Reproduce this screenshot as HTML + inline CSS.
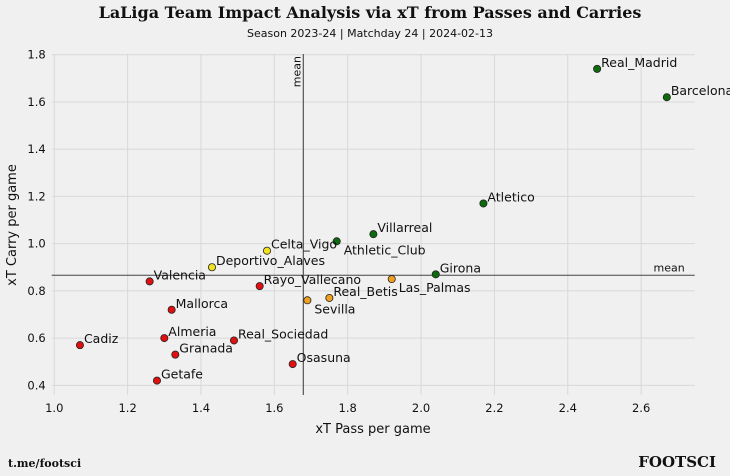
<!DOCTYPE html>
<html><head><meta charset="utf-8"><style>
body{margin:0;background:#f0f0f0;}
svg{display:block;font-family:"DejaVu Sans","Liberation Sans",sans-serif;}
</style></head><body>
<svg id="chart" width="730" height="476" viewBox="0 0 730 476">
<rect width="730" height="476" fill="#f0f0f0"/>
<text x="370" y="18" text-anchor="middle" font-family="DejaVu Serif, Liberation Serif, serif" font-weight="bold" font-size="16" fill="#111">LaLiga Team Impact Analysis via xT from Passes and Carries</text>
<text x="370" y="37" text-anchor="middle" font-size="11" fill="#111">Season 2023-24 | Matchday 24 | 2024-02-13</text>
<g id="grid"></g>
<g id="axes"></g>
<g id="marks"></g>
<text x="373" y="433" text-anchor="middle" font-size="13" fill="#111">xT Pass per game</text>
<text transform="translate(16,225) rotate(-90)" text-anchor="middle" font-size="13" fill="#111">xT Carry per game</text>
<text x="8" y="467" font-family="DejaVu Serif, Liberation Serif, serif" font-weight="bold" font-size="11" fill="#111">t.me/footsci</text>
<text x="716" y="467" text-anchor="end" font-family="DejaVu Serif, Liberation Serif, serif" font-weight="bold" font-size="15" fill="#111">FOOTSCI</text>
</svg>
<script>
const teams=["Real_Madrid","Barcelona","Atletico","Villarreal","Athletic_Club","Girona","Las_Palmas","Real_Betis","Sevilla","Celta_Vigo","Deportivo_Alaves","Valencia","Rayo_Vallecano","Mallorca","Almeria","Real_Sociedad","Cadiz","Granada","Osasuna","Getafe"];
const xtPass=[2.48,2.67,2.17,1.87,1.77,2.04,1.92,1.75,1.69,1.58,1.43,1.26,1.56,1.32,1.30,1.49,1.07,1.33,1.65,1.28];
const xtCarry=[1.74,1.62,1.17,1.04,1.01,0.87,0.85,0.77,0.76,0.97,0.90,0.84,0.82,0.72,0.60,0.59,0.57,0.53,0.49,0.42];
const xTicks=[1.0,1.2,1.4,1.6,1.8,2.0,2.2,2.4,2.6];
const yTicks=[0.4,0.6,0.8,1.0,1.2,1.4,1.6,1.8];
const meanPass=1.679, meanCarry=0.866;
const below=["Athletic_Club","Las_Palmas","Sevilla"];
const X0=51.7,X1=694.7,Y0=395,Y1=54;
const xmin=0.993,xmax=2.746,ymin=0.359,ymax=1.803;
const sx=v=>X0+(v-xmin)/(xmax-xmin)*(X1-X0);
const sy=v=>Y0-(v-ymin)/(ymax-ymin)*(Y0-Y1);
const NS="http://www.w3.org/2000/svg";
function mk(t,a,p){const e=document.createElementNS(NS,t);for(const k in a)e.setAttribute(k,a[k]);p.appendChild(e);return e;}
const grid=document.getElementById('grid'),axes=document.getElementById('axes'),marks=document.getElementById('marks');
xTicks.forEach(t=>{
 const l=mk('line',{x1:sx(t),x2:sx(t),y1:Y1,y2:Y0,stroke:'#d8d8d8','stroke-width':1},grid);
 
 
 const tx=mk('text',{x:sx(t),y:Y0+17,'text-anchor':'middle','font-size':11.5,fill:'#111'},axes);
 tx.textContent=t.toFixed(1);
 
 
});
yTicks.forEach(t=>{
 const l=mk('line',{x1:X0,x2:X1,y1:sy(t),y2:sy(t),stroke:'#d8d8d8','stroke-width':1},grid);
 
 
 const tx=mk('text',{x:X0-6,y:sy(t)+4,'text-anchor':'end','font-size':11.5,fill:'#111'},axes);
 tx.textContent=t.toFixed(1);
 
 
});
const vm=mk('line',{x1:sx(meanPass),x2:sx(meanPass),y1:Y1,y2:Y0,stroke:'#555','stroke-width':1.2},axes);


const hm=mk('line',{x1:X0,x2:X1,y1:sy(meanCarry),y2:sy(meanCarry),stroke:'#444','stroke-width':1},axes);


const vt=mk('text',{transform:`translate(${sx(meanPass)-3},${Y1+2}) rotate(-90)`,'text-anchor':'end','font-size':11,fill:'#111'},axes);
vt.textContent='mean';


const ht=mk('text',{x:X1-10,y:sy(meanCarry)-4,'text-anchor':'end','font-size':11,fill:'#111'},axes);
ht.textContent='mean';


function color(p,c){
 if(p>=meanPass&&c>=meanCarry)return '#0d6b0d';
 if(p>=meanPass)return '#f0a020';
 if(c>=meanCarry)return '#f2e21e';
 return '#e01010';
}
teams.forEach((n,i)=>{
 const cx=sx(xtPass[i]),cy=sy(xtCarry[i]);
 const c=mk('circle',{cx:cx,cy:cy,r:3.6,fill:color(xtPass[i],xtCarry[i]),stroke:'#222','stroke-width':0.8},marks);
 
 
 const b=below.includes(n);
 const t=mk('text',{x:cx+(b?7:4),y:b?cy+13:cy-2,'font-size':12.5,fill:'#111'},marks);
 t.textContent=n;
 
 
});
</script>
</body></html>
